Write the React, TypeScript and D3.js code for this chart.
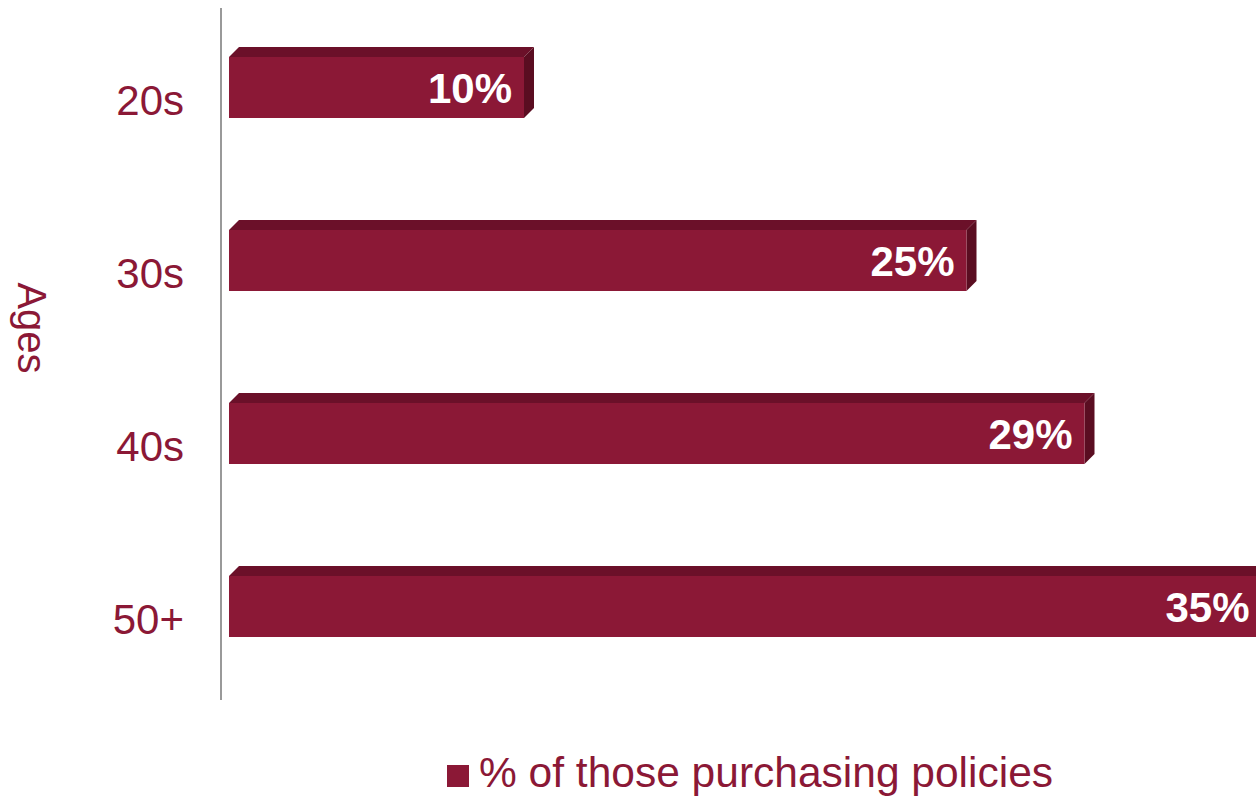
import React from "react";
import * as d3 from "d3";

const categories = ["20s", "30s", "40s", "50+"];
const values = [10, 25, 29, 35];
const valueLabels = ["10%", "25%", "29%", "35%"];
const legendLabel = "% of those purchasing policies";
const axisTitle = "Ages";

const W = 1256;
const H = 796;
const FRONT = "#8B1836";
const TOP = "#6B1029";
const SIDE = "#5A0D21";
const TEXT = "#8B1836";
const FONT = "Liberation Sans, Arial, sans-serif";

export default function App() {
  const x = d3.scaleLinear().domain([0, 40]).range([229, 229 + 40 * 29.5]);
  const y = d3.scaleBand<string>().domain(categories).range([8, 700]);
  const depth = 10;
  const frontOffset = 49;
  const frontH = 61;

  return (
    <div style={{ position: "absolute", left: 0, top: 0 }}>
      <svg width={W} height={H} style={{ display: "block" }}>
        <rect width={W} height={H} fill="#fff" />
        {categories.map((c, i) => {
          const x0 = x(0);
          const x1 = x(values[i]);
          const yt = (y(c) as number) + frontOffset;
          const yb = yt + frontH;
          const top = `M${x0},${yt} L${x0 + depth},${yt - depth} L${x1 + depth},${yt - depth} L${x1},${yt} Z`;
          const side = `M${x1},${yt} L${x1 + depth},${yt - depth} L${x1 + depth},${yb - depth} L${x1},${yb} Z`;
          return (
            <g key={c}>
              <path d={top} fill={TOP} />
              <path d={side} fill={SIDE} />
              <rect x={x0} y={yt} width={x1 - x0} height={frontH} fill={FRONT} />
              <text
                x={x1 - 12}
                y={yt + frontH / 2 + 15}
                textAnchor="end"
                fill="#fff"
                fontWeight="bold"
                fontSize={42}
                fontFamily={FONT}
              >
                {valueLabels[i]}
              </text>
            </g>
          );
        })}
        <line x1={221} x2={221} y1={8} y2={700} stroke="#999" strokeWidth={2} />
        {categories.map((c) => (
          <text
            key={c}
            x={184}
            y={(y(c) as number) + y.bandwidth() / 2 + 20}
            textAnchor="end"
            fill={TEXT}
            fontSize={42}
            fontFamily={FONT}
          >
            {c}
          </text>
        ))}
        <text
          transform="translate(18,328) rotate(90)"
          textAnchor="middle"
          fill={TEXT}
          fontSize={40}
          fontFamily={FONT}
        >
          {axisTitle}
        </text>
        <rect x={447} y={765} width={22} height={22} fill={FRONT} />
        <text x={479} y={787} fill={TEXT} fontSize={42.5} fontFamily={FONT}>
          {legendLabel}
        </text>
      </svg>
    </div>
  );
}
